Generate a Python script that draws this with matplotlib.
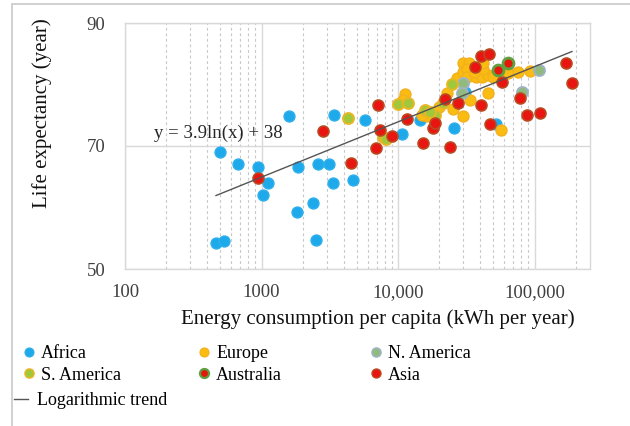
import matplotlib
matplotlib.use("Agg")
import matplotlib.pyplot as plt
from matplotlib.lines import Line2D
from matplotlib.patches import Rectangle
import numpy as np

plt.rcParams['font.family'] = ['Liberation Serif', 'DejaVu Serif']

# values (energy kWh/yr, life expectancy yr)
africa_x = [497, 673, 942, 1116, 1026, 1850, 1820, 2594, 3120, 3340, 2384, 2508,
            464, 531, 1590, 3400, 4680, 5730, 10700, 14500, 25700, 30970, 52200]
africa_y = [69.0, 67.1, 66.6, 64.0, 62.0, 66.6, 59.3, 67.1, 67.1, 64.0, 60.7, 54.7,
            54.2, 54.6, 74.9, 75.0, 64.5, 74.2, 72.0, 74.2, 72.9, 78.8, 73.6]

europe_x = [11250, 10880, 16310, 14990, 19950, 22860, 25290, 29930, 27050, 29930,
            33110, 29930, 31990, 31990, 37240, 41230, 45610, 41950, 42100, 33680,
            45610, 56860, 63950, 75690, 92650, 36060, 49650]
europe_y = [78.5, 77.5, 74.9, 75.0, 76.3, 78.6, 76.0, 74.9, 81.1, 83.5,
            83.5, 82.0, 82.5, 81.2, 81.2, 81.2, 81.5, 82.5, 83.5, 77.5,
            78.6, 72.6, 81.9, 82.0, 82.2, 82.0, 81.2]

n_america_x = [29930, 29440, 80900, 107900]
n_america_y = [80.2, 78.6, 78.8, 82.4]

s_america_x = [4300, 7760, 8170, 10000, 11840, 15770, 18650, 21370, 24880, 17150]
s_america_y = [74.6, 71.5, 71.1, 76.8, 77.0, 75.9, 75.0, 77.0, 80.1, 75.5]

australia_x = [54040, 63950]
australia_y = [82.4, 83.5]

asia_x = [942, 2823, 4525, 6900, 7130, 7380, 9040, 11640, 15240, 24040, 18050,
          18650, 22100, 27540, 40550, 47200, 88100, 109700, 78300, 57800, 36650,
          40550, 46400, 170200, 188300]
asia_y = [64.8, 72.4, 67.2, 69.7, 76.7, 72.6, 71.6, 74.4, 70.5, 69.8, 72.9,
          73.7, 77.6, 77.0, 76.7, 73.6, 75.0, 75.4, 77.8, 80.4, 82.8,
          84.6, 85.0, 83.5, 80.2]

# logarithmic trend shown on the chart
trend_a = 3.9
trend_b = 38
trend_x = [464, 188000]

x_ticks = [100, 1000, 10000, 100000]
x_tick_labels = ["100", "1000", "10,000", "100,000"]
y_ticks = [50, 70, 90]

fig = plt.figure(figsize=(6.3, 4.26), dpi=100)
ax = fig.add_axes([125 / 630, 1 - 269 / 426, 465 / 630, 246 / 426])

# outer chart frame (only left/top visible in the crop)
fig.patches.append(Rectangle((12 / 630, -0.1), 1.2, 1.1 - 4 / 426,
                             transform=fig.transFigure, fill=False,
                             edgecolor='#c8c8c8', linewidth=1.2))

series = [
    ("Africa", africa_x, africa_y, '#1ea9ea', '#2fb0ec', 1.0),
    ("Europe", europe_x, europe_y, '#fbbc12', '#f2b01c', 1.0),
    ("N. America", n_america_x, n_america_y, '#90bb7c', '#9eb4c4', 1.4),
    ("S. America", s_america_x, s_america_y, '#a0c83a', '#e9b624', 1.4),
    ("Australia", australia_x, australia_y, '#e5170c', '#5fa040', 2.0),
    ("Asia", asia_x, asia_y, '#ea1410', '#b94a22', 1.2),
]
for name, xs, ys, face, edge, lw in series:
    ax.scatter(xs, ys, s=62, c=face, edgecolors=edge, linewidths=lw, zorder=3)

tx = np.array(trend_x, dtype=float)
ax.plot(tx, trend_a * np.log(tx) + trend_b, color='#555555', lw=1.0, zorder=4)

ax.text(163, 72.0, "y = 3.9ln(x) + 38", fontsize=13.5, color='#262626',
        va='center', ha='left', transform=ax.transData)

ax.set_xscale('log')
ax.set_xlim(100, 2.55e5)
ax.set_ylim(50, 90)
ax.set_xticks(x_ticks)
ax.set_xticklabels(x_tick_labels)
ax.set_yticks(y_ticks)
ax.xaxis.set_minor_locator(matplotlib.ticker.LogLocator(base=10, subs=np.arange(2, 10)))
ax.xaxis.set_minor_formatter(matplotlib.ticker.NullFormatter())
ax.tick_params(axis='both', which='both', length=0, labelsize=13.5, labelcolor='#404040')
ax.tick_params(axis='x', pad=11)
ax.tick_params(axis='y', pad=14)

ax.grid(True, which='major', color='#d9d9d9', lw=1.0)
ax.grid(True, which='minor', axis='x', color='#c8c8c8', lw=0.8, ls=(0, (2.5, 2.5)))
ax.set_axisbelow(True)
for sp in ax.spines.values():
    sp.set_color('#d9d9d9')
    sp.set_linewidth(1.0)

ax.set_xlabel("Energy consumption per capita (kWh per year)", fontsize=15, color='#111111')
ax.xaxis.set_label_coords(0.543, -0.165)
ax.set_ylabel("Life expectancy (year)", fontsize=15, color='#111111')
ax.yaxis.set_label_coords(-0.157, 0.634)

def handle(name):
    for n, xs, ys, face, edge, lw in series:
        if n == name:
            return Line2D([], [], ls='none', marker='o', markersize=6.5,
                          markerfacecolor=face, markeredgecolor=edge,
                          markeredgewidth=lw * 0.8)

trend_handle = Line2D([], [], color='#555555', lw=1.0)

cols = [
    (["Africa", "S. America"], 20),
    (["Europe", "Australia"], 195),
    (["N. America", "Asia"], 367),
]
for names, px in cols:
    leg = fig.legend([handle(n) for n in names], names, loc='upper left',
                     bbox_to_anchor=(px / 630, 1 - 345 / 426), frameon=False,
                     fontsize=13, handlelength=1.0, handletextpad=0.17,
                     labelspacing=0.25, borderpad=0, borderaxespad=0)
fig.legend([trend_handle], ["Logarithmic trend"], loc='upper left',
           bbox_to_anchor=(14 / 630, 1 - 392 / 426), frameon=False,
           fontsize=13, handlelength=0.8, handletextpad=0.5,
           borderpad=0, borderaxespad=0)

fig.savefig("out.png", dpi=100)
